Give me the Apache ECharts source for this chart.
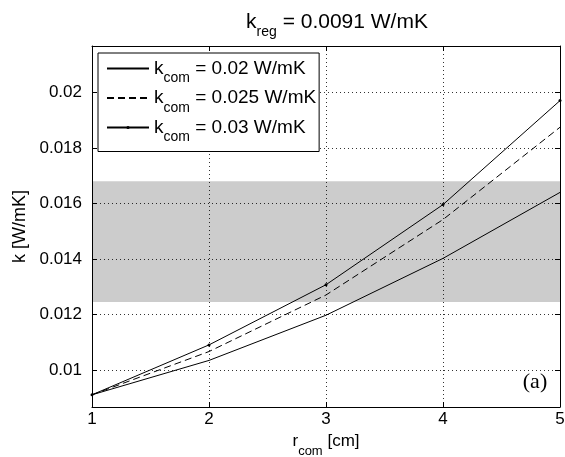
<!DOCTYPE html>
<html>
<head>
<meta charset="utf-8">
<script src="https://cdn.jsdelivr.net/npm/echarts@6/dist/echarts.min.js"></script>
<style>
html,body{margin:0;padding:0;background:#fff;}
#c{width:565px;height:457px;}
</style>
</head>
<body>
<div id="c"></div>
<script>
// ---- data ----
var rCom = [1, 2, 3, 4, 5];
var k002 = [0.0091, 0.01034, 0.01197, 0.01402, 0.0164];
var k0025 = [0.0091, 0.01066, 0.0127, 0.01542, 0.01875];
var k003 = [0.0091, 0.0109, 0.01307, 0.01596, 0.01971];
var seriesNames = ['0.02', '0.025', '0.03'];
var yTicks = [0.01, 0.012, 0.014, 0.016, 0.018, 0.02];
var xTicks = [1, 2, 3, 4, 5];
var bandRange = [0.01245, 0.0168];
var yRange = [0.00866, 0.02168];
var xRange = [1, 5];

var FONT = 'Liberation Sans';
function pairs(ys) { return rCom.map(function (x, i) { return [x, ys[i]]; }); }

var chart = echarts.init(document.getElementById('c'), null, {renderer: 'canvas'});
var gridLine = {show: true, lineStyle: {color: '#000', width: 1, type: [1, 3], opacity: 0.8}};

var option = {
  animation: false,
  backgroundColor: '#fff',
  grid: {left: 92, right: 5, top: 46, bottom: 50, containLabel: false, outerBoundsMode: 'none'},
  xAxis: [{
    type: 'value', min: xRange[0], max: xRange[1], interval: 1, position: 'bottom',
    axisLine: {show: true, onZero: false, lineStyle: {color: '#000', width: 1}},
    axisTick: {show: true, inside: true, length: 5, lineStyle: {color: '#000'}},
    axisLabel: {color: '#000', fontFamily: FONT, fontSize: 17, margin: 4},
    splitLine: gridLine,
    name: '{r|r}{s|com}{t| [cm]}', nameLocation: 'middle', nameGap: 12,
    nameTextStyle: {color: '#000', fontFamily: FONT, fontSize: 17,
      rich: {r: {fontSize: 17, fontFamily: FONT, color: '#000'},
             s: {fontSize: 13, fontFamily: FONT, color: '#000', padding: [20, 0, 0, 0]},
             t: {fontSize: 17, fontFamily: FONT, color: '#000'}}}
  }, {
    type: 'value', min: xRange[0], max: xRange[1], interval: 1, position: 'top',
    axisLine: {show: true, onZero: false, lineStyle: {color: '#000', width: 1}},
    axisTick: {show: true, inside: true, length: 5, lineStyle: {color: '#000'}},
    axisLabel: {show: false}, splitLine: {show: false}
  }],
  yAxis: [{
    type: 'value', min: yRange[0], max: yRange[1], position: 'left',
    axisLine: {show: true, onZero: false, lineStyle: {color: '#000', width: 1}},
    axisTick: {show: true, inside: true, length: 5, lineStyle: {color: '#000'}, customValues: yTicks},
    axisLabel: {color: '#000', fontFamily: FONT, fontSize: 17, margin: 10, customValues: yTicks,
      formatter: function (v) { return String(+v.toFixed(4)); }},
    splitLine: gridLine,
    name: 'k [W/mK]', nameLocation: 'middle', nameGap: 60, nameRotate: 90,
    nameTextStyle: {color: '#000', fontFamily: FONT, fontSize: 18}
  }, {
    type: 'value', min: yRange[0], max: yRange[1], position: 'right',
    axisLine: {show: true, onZero: false, lineStyle: {color: '#000', width: 1}},
    axisTick: {show: true, inside: true, length: 5, lineStyle: {color: '#000'}, customValues: yTicks},
    axisLabel: {show: false, customValues: yTicks}, splitLine: {show: false}
  }],
  legend: {
    orient: 'vertical', left: 98, top: 53,
    padding: [6, 3, 7, 8], itemWidth: 42, itemHeight: 4, itemGap: 3,
    borderColor: '#000', borderWidth: 1, backgroundColor: '#fff',
    data: [
      {name: seriesNames[0], itemStyle: {color: 'rgba(0,0,0,0)', borderWidth: 0}},
      {name: seriesNames[1], itemStyle: {color: 'rgba(0,0,0,0)', borderWidth: 0}},
      {name: seriesNames[2]}
    ],
    formatter: function (n) { return '{k|k}{s|com}{t| = ' + n + ' W/mK}'; },
    textStyle: {color: '#000', fontFamily: FONT, fontSize: 19,
      rich: {k: {fontSize: 19, fontFamily: FONT, color: '#000'},
             s: {fontSize: 14, fontFamily: FONT, color: '#000', padding: [20, 0, 0, 0]},
             t: {fontSize: 19, fontFamily: FONT, color: '#000'}}}
  },
  graphic: [{
    type: 'text', x: 337, y: 22, z: 100,
    style: {text: '{k|k}{s|reg}{t| = 0.0091 W/mK}', align: 'center', verticalAlign: 'middle',
      rich: {k: {fontSize: 21, fontFamily: FONT, fill: '#000'},
             s: {fontSize: 14, fontFamily: FONT, fill: '#000', padding: [20, 0, 0, 0]},
             t: {fontSize: 21, fontFamily: FONT, fill: '#000'}}}
  }, {
    type: 'text', x: 535, y: 382, z: 100,
    style: {text: '(a)', align: 'center', verticalAlign: 'middle', fontSize: 22,
      fontFamily: 'Liberation Serif', fill: '#000'}
  }],
  series: [{
    name: seriesNames[0], type: 'line', data: pairs(k002), symbol: 'none',
    lineStyle: {color: '#000', width: 1, type: 'solid'}, itemStyle: {color: '#000'},
    z: 3,
    markArea: {silent: true, itemStyle: {color: 'rgba(0,0,0,0.2)'},
      data: [[{yAxis: bandRange[0]}, {yAxis: bandRange[1]}]]}
  }, {
    name: seriesNames[1], type: 'line', data: pairs(k0025), symbol: 'none',
    lineStyle: {color: '#000', width: 1, type: [7, 4]}, itemStyle: {color: '#000'}, z: 4
  }, {
    name: seriesNames[2], type: 'line', data: pairs(k003), symbol: 'circle', symbolSize: 3,
    lineStyle: {color: '#000', width: 1, type: 'solid'}, itemStyle: {color: '#000'}, z: 4
  }]
};
chart.setOption(option);
</script>
</body>
</html>
